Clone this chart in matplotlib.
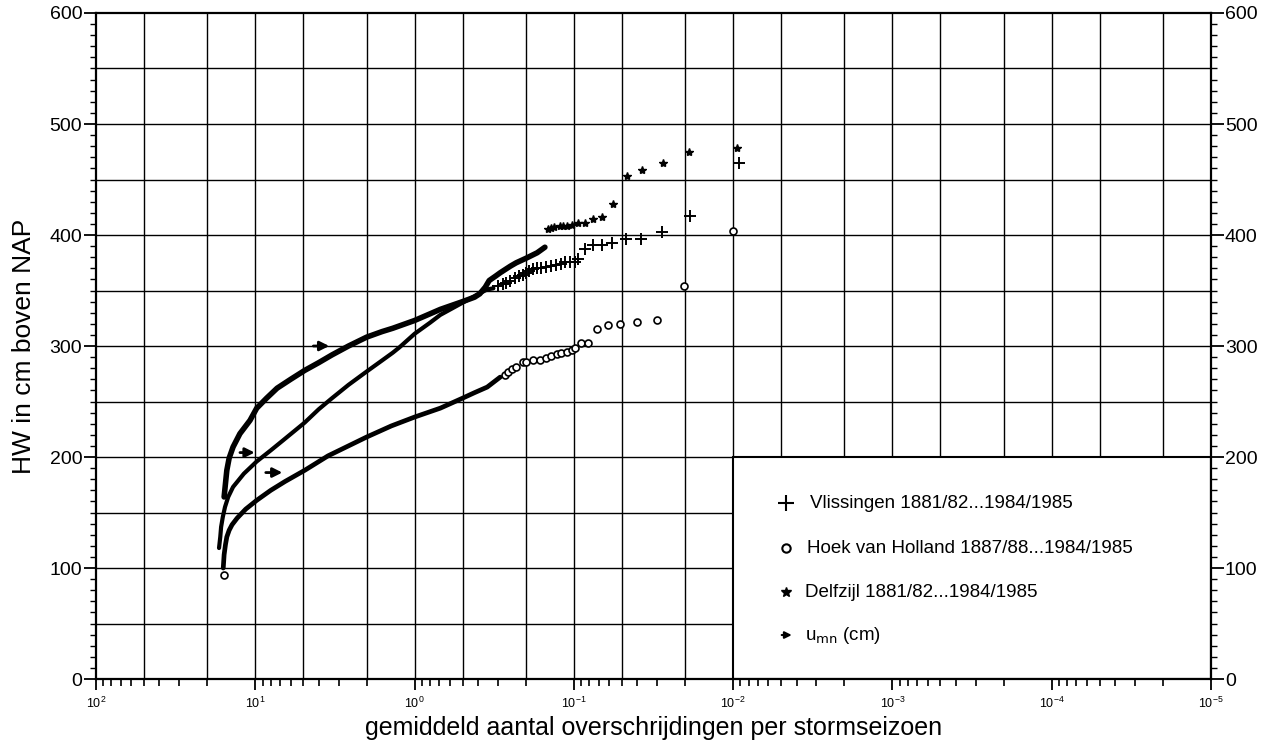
import matplotlib
matplotlib.use("Agg")
import matplotlib.pyplot as plt
from matplotlib.ticker import FixedLocator, MultipleLocator, NullFormatter, LogFormatterSciNotation
from matplotlib.patches import Rectangle

plt.rcParams['font.family'] = ['Liberation Sans', 'DejaVu Sans']

# ---- data (frequency per storm season, level in cm above NAP) ----
# Delfzijl: dense part (drawn as thick line) and sparse tail (markers)
delf_curve_f = [15.7, 15.5, 15.3, 15.1, 14.6, 13.8, 12.5, 10.8, 9.8, 8.5, 7.3, 6.0, 4.9, 4.0, 3.3, 2.6, 2.0, 1.6,
                1.37, 1.0, 0.8, 0.69, 0.5, 0.42, 0.39, 0.36, 0.34, 0.31, 0.29, 0.25, 0.23, 0.2, 0.17, 0.152]
delf_curve_h = [164, 172, 180, 188, 199, 209, 221, 233, 244, 253, 262, 270, 278, 285, 292, 300, 308, 313,
                316, 323, 329, 333, 340, 344, 347, 353, 359, 363, 366, 372, 375, 379, 384, 389]
delf_pts_f = [0.145, 0.14, 0.133, 0.122, 0.117, 0.11, 0.103, 0.094, 0.085, 0.076, 0.0664, 0.0567, 0.0464,
              0.0374, 0.0276, 0.019, 0.00946]
delf_pts_h = [405, 406, 407, 408, 408, 408, 409, 411, 411, 414, 416, 428, 453, 459, 465, 475, 478]

# Vlissingen
vlis_curve_f = [16.9, 16.6, 16.4, 16.0, 15.5, 14.8, 13.8, 11.8, 9.8, 8.0, 6.7, 4.9, 4.0, 3.3, 2.6, 2.0, 1.6,
                1.37, 1.24, 1.0, 0.8, 0.69, 0.5, 0.42, 0.35, 0.32]
vlis_curve_h = [118, 128, 137, 146, 155, 164, 173, 185, 196, 206, 215, 231, 243, 253, 265, 277, 287,
                294, 299, 311, 321, 328, 339, 345, 351, 352]
vlis_pts_f = [0.30, 0.28, 0.265, 0.25, 0.235, 0.22, 0.21, 0.2, 0.19, 0.18, 0.17, 0.16, 0.15, 0.14, 0.13,
              0.12, 0.114, 0.106, 0.099, 0.094, 0.085, 0.076, 0.0667, 0.0577, 0.0468, 0.038, 0.028, 0.0187,
              0.0092]
vlis_pts_h = [354, 356, 357, 359, 361, 363, 364, 366, 368, 369, 370, 370, 371, 372, 373,
              374, 376, 376, 376, 378, 387, 391, 391, 393, 396, 396, 403, 417, 465]

# Hoek van Holland
hoek_curve_f = [15.9, 15.7, 15.4, 15.1, 14.6, 14.0, 13.0, 11.5, 9.8, 8.0, 6.5, 4.9, 3.5, 2.0, 1.4, 1.0, 0.69,
                0.5, 0.42, 0.35, 0.29]
hoek_curve_h = [100, 112, 121, 128, 134, 139, 145, 153, 161, 170, 178, 188, 201, 218, 228, 236, 244,
                253, 258, 263, 272]
hoek_pts_f = [15.7, 0.27, 0.26, 0.245, 0.23, 0.21, 0.2, 0.18, 0.163, 0.15, 0.14, 0.128, 0.12, 0.11, 0.103,
              0.099, 0.09, 0.082, 0.0716, 0.0611, 0.0514, 0.0402, 0.0302, 0.0204, 0.01]
hoek_pts_h = [94, 274, 277, 279, 281, 286, 286, 287, 287, 289, 291, 293, 294, 295, 296,
              298, 303, 303, 315, 319, 320, 322, 323, 354, 404]

# u_mn arrows (level, start freq, end freq)
umn_h = [300, 204, 186]
umn_f_start = [4.5, 13.0, 8.95]
umn_f_end = [3.3, 9.7, 6.5]

x_decades = [1e2, 1e1, 1e0, 1e-1, 1e-2, 1e-3, 1e-4, 1e-5]

legend_labels = ["Vlissingen 1881/82...1984/1985",
                 "Hoek van Holland 1887/88...1984/1985",
                 "Delfzijl 1881/82...1984/1985",
                 "u$_{\\rm mn}$ (cm)"]

# ---- figure ----
fig = plt.figure(figsize=(12.79, 7.47), dpi=100)
ax = fig.add_axes([0.0751, 0.091, 0.8717, 0.8916])
ax.set_xscale('log')
ax.set_xlim(100, 1e-5)
ax.set_ylim(0, 600)

# grid at 1, 2, 5 per decade and every 50 cm
grid_x = []
for d in x_decades[1:]:
    for m in (1, 2, 5):
        grid_x.append(m * d)
for gx in grid_x:
    ax.axvline(gx, color='black', lw=1.0, zorder=1)
for gy in range(50, 600, 50):
    ax.axhline(gy, color='black', lw=1.0, zorder=1)

# legend box region (covers grid)
ax.add_patch(Rectangle((1e-5, 0), 1e-2 - 1e-5, 200, facecolor='white', edgecolor='black',
                       lw=1.5, zorder=2))

# curves
ax.plot(delf_curve_f, delf_curve_h, color='black', lw=4.0, solid_capstyle='round',
        solid_joinstyle='round', zorder=3)
ax.plot(delf_pts_f, delf_pts_h, ls='none', marker='*', ms=6, color='black', zorder=3)
ax.plot(vlis_curve_f, vlis_curve_h, color='black', lw=3.0, solid_capstyle='round',
        solid_joinstyle='round', zorder=3)
ax.plot(vlis_pts_f, vlis_pts_h, ls='none', marker='+', ms=8, mew=1.4, color='black', zorder=3)
ax.plot(hoek_curve_f, hoek_curve_h, color='black', lw=3.4, solid_capstyle='round',
        solid_joinstyle='round', zorder=3)
ax.plot(hoek_pts_f, hoek_pts_h, ls='none', marker='o', ms=5, mfc='white', mec='black', mew=1.2, zorder=3)

for h, f0, f1 in zip(umn_h, umn_f_start, umn_f_end):
    ax.annotate('', xy=(f1, h), xytext=(f0, h),
                arrowprops=dict(arrowstyle='-|>', color='black', lw=2.0, mutation_scale=14),
                zorder=4)

# legend entries
leg_x_mark = 0.6185
leg_x_text = 0.6375
leg_y = [(679 - 503) / 666, (679 - 548) / 666, (679 - 592) / 666, (679 - 635) / 666]
ax.plot([leg_x_mark], [leg_y[0]], transform=ax.transAxes, marker='+', ms=11, mew=1.5, color='black', zorder=5)
ax.plot([leg_x_mark], [leg_y[1]], transform=ax.transAxes, marker='o', ms=6, mfc='white', mec='black',
        mew=1.5, zorder=5)
ax.plot([leg_x_mark], [leg_y[2]], transform=ax.transAxes, marker='*', ms=7, color='black', zorder=5)
ax.annotate('', xy=(leg_x_mark + 0.008, leg_y[3]), xytext=(leg_x_mark - 0.006, leg_y[3]),
            xycoords='axes fraction', textcoords='axes fraction',
            arrowprops=dict(arrowstyle='-|>', color='black', lw=1.5, mutation_scale=10), zorder=5)
for yy, lab, dx in zip(leg_y, legend_labels, [0.003, 0.0, -0.002, -0.002]):
    ax.text(leg_x_text + dx, yy, lab, transform=ax.transAxes, fontsize=13.5,
            va='center', ha='left', zorder=5)

# ticks
minor_x = [m * d for d in x_decades[1:] for m in range(2, 10)]
ax.xaxis.set_major_locator(FixedLocator(x_decades))
ax.xaxis.set_major_formatter(LogFormatterSciNotation())
ax.xaxis.set_minor_locator(FixedLocator(minor_x))
ax.xaxis.set_minor_formatter(NullFormatter())
ax.yaxis.set_major_locator(MultipleLocator(100))
ax.yaxis.set_minor_locator(MultipleLocator(10))
ax.tick_params(axis='x', which='major', direction='out', length=8, width=1.3, labelsize=9, pad=4)
ax.tick_params(axis='x', which='minor', direction='out', length=5, width=1.2)
ax.tick_params(axis='y', which='major', direction='out', length=9, width=1.3, labelsize=14,
               left=True, right=True, labelleft=True, labelright=True, pad=1)
ax.tick_params(axis='y', which='minor', direction='out', length=4, width=1.0, left=True, right=True)
ax.tick_params(axis='x', top=False)

for s in ax.spines.values():
    s.set_linewidth(1.6)
    s.set_zorder(6)

ax.set_ylabel('HW in cm boven NAP', fontsize=19, labelpad=10)
ax.set_xlabel('gemiddeld aantal overschrijdingen per stormseizoen', fontsize=18, labelpad=4)

fig.savefig('out.png', dpi=100)
